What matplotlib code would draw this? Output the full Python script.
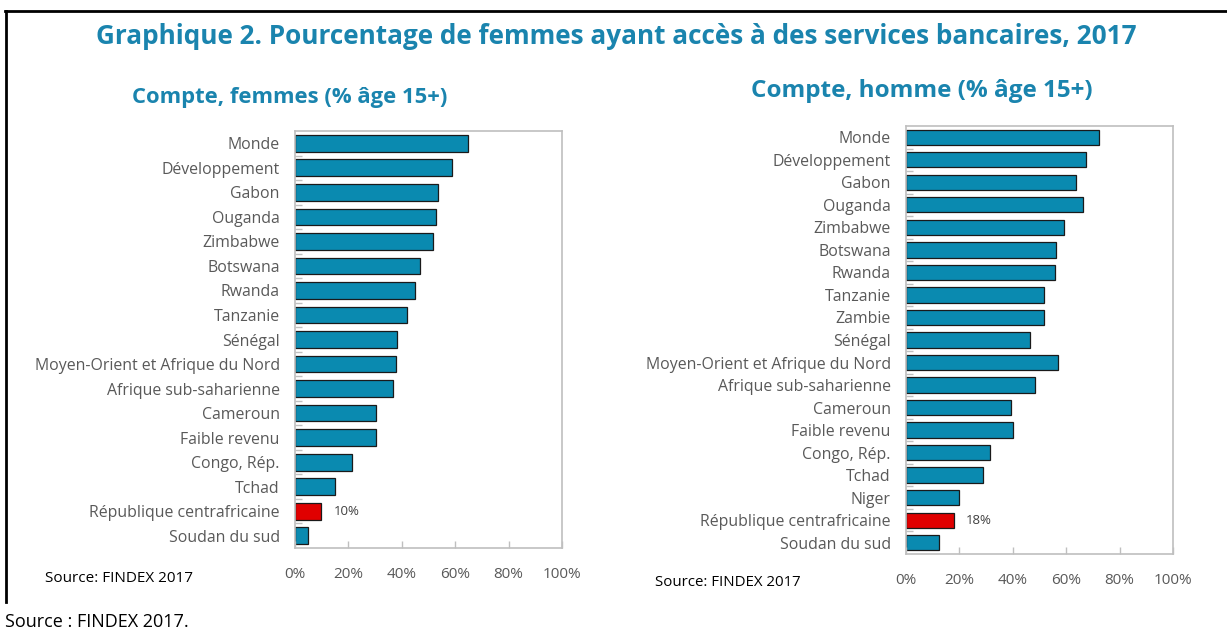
import matplotlib.pyplot as plt
from matplotlib.ticker import FuncFormatter, MultipleLocator
from matplotlib.lines import Line2D

plt.rcParams['font.family'] = ['Open Sans', 'DejaVu Sans']

# data: account ownership, % age 15+ (FINDEX 2017)
femmes_pays = ["Monde", "Développement", "Gabon", "Ouganda", "Zimbabwe",
               "Botswana", "Rwanda", "Tanzanie", "Sénégal",
               "Moyen-Orient et Afrique du Nord", "Afrique sub-saharienne",
               "Cameroun", "Faible revenu", "Congo, Rép.", "Tchad",
               "République centrafricaine", "Soudan du sud"]
femmes_vals = [64.8, 58.7, 53.7, 52.9, 51.6, 46.7, 45.1, 42.1, 38.4, 38.0,
               36.8, 30.2, 30.2, 21.2, 14.9, 9.9, 5.0]

hommes_pays = ["Monde", "Développement", "Gabon", "Ouganda", "Zimbabwe",
               "Botswana", "Rwanda", "Tanzanie", "Zambie", "Sénégal",
               "Moyen-Orient et Afrique du Nord", "Afrique sub-saharienne",
               "Cameroun", "Faible revenu", "Congo, Rép.", "Tchad", "Niger",
               "République centrafricaine", "Soudan du sud"]
hommes_vals = [72.4, 67.4, 63.7, 66.2, 59.0, 56.2, 55.9, 51.7, 51.7, 46.5,
               57.1, 48.3, 39.2, 40.1, 31.4, 28.8, 19.8, 18.0, 12.3]

highlight = "République centrafricaine"
highlight_labels = {"femmes": "10%", "hommes": "18%"}

BLUE = "#0a8ab0"
RED = "#e00000"
TITLE = "#1a84ae"
GREY = "#595959"
FRAME = "#bfbfbf"


def draw_panel(ax, pays, vals, label):
    pos = list(range(len(pays)))
    colors = [RED if p == highlight else BLUE for p in pays]
    ax.barh(pos, vals, height=0.68, color=colors, edgecolor="#1a1a1a", linewidth=0.9)
    ax.set_ylim(len(pays) - 0.5, -0.5)
    ax.set_xlim(0, 100)
    ax.set_yticks(pos)
    ax.set_yticklabels(pays)
    ax.set_yticks([p + 0.5 for p in pos[:-1]], minor=True)
    ax.xaxis.set_major_locator(MultipleLocator(20))
    ax.xaxis.set_major_formatter(FuncFormatter(lambda v, _: f"{v:.0f}%"))
    ax.tick_params(axis="y", which="major", length=0, pad=11, labelsize=11.4, labelcolor=GREY)
    ax.tick_params(axis="y", which="minor", direction="in", length=5, color=FRAME, width=1)
    ax.tick_params(axis="x", direction="in", length=5, color=FRAME, width=1,
                   pad=14, labelsize=11, labelcolor=GREY)
    for s in ax.spines.values():
        s.set_color(FRAME)
        s.set_linewidth(1.2)
    i = pays.index(highlight)
    ax.text(vals[i] + 4.5, i, label, va="center", ha="left", fontsize=9.5, color="#404040")


fig = plt.figure(figsize=(12.27, 6.37), dpi=100)

ax1 = fig.add_axes([0.2404, 0.1397, 0.2176, 0.6546])
draw_panel(ax1, femmes_pays, femmes_vals, highlight_labels["femmes"])

ax2 = fig.add_axes([0.7384, 0.1303, 0.2176, 0.6719])
draw_panel(ax2, hommes_pays, hommes_vals, highlight_labels["hommes"])

# outer frame (top and left only)
fig.add_artist(Line2D([5 / 1227, 1.0], [1 - 11 / 637, 1 - 11 / 637], color="black", lw=2))
fig.add_artist(Line2D([6 / 1227, 6 / 1227], [1 - 11 / 637, 1 - 602 / 637], color="black", lw=2))

fig.text(616 / 1227, 1 - 36 / 637,
         "Graphique 2. Pourcentage de femmes ayant accès à des services bancaires, 2017",
         ha="center", va="center", fontsize=18.8, fontweight="bold", color=TITLE)
fig.text(290 / 1227, 1 - 98 / 637, "Compte, femmes (% âge 15+)",
         ha="center", va="center", fontsize=15.8, fontweight="bold", color=TITLE)
fig.text(922 / 1227, 1 - 91 / 637, "Compte, homme (% âge 15+)",
         ha="center", va="center", fontsize=17.5, fontweight="bold", color=TITLE)

fig.text(45 / 1227, 1 - 579 / 637, "Source: FINDEX 2017", ha="left", va="center",
         fontsize=11, color="black")
fig.text(655 / 1227, 1 - 582 / 637, "Source: FINDEX 2017", ha="left", va="center",
         fontsize=10.8, color="black")
fig.text(5 / 1227, 1 - 622 / 637, "Source : FINDEX 2017.", ha="left", va="center",
         fontsize=13, color="black")

fig.savefig("out.png", dpi=100)
